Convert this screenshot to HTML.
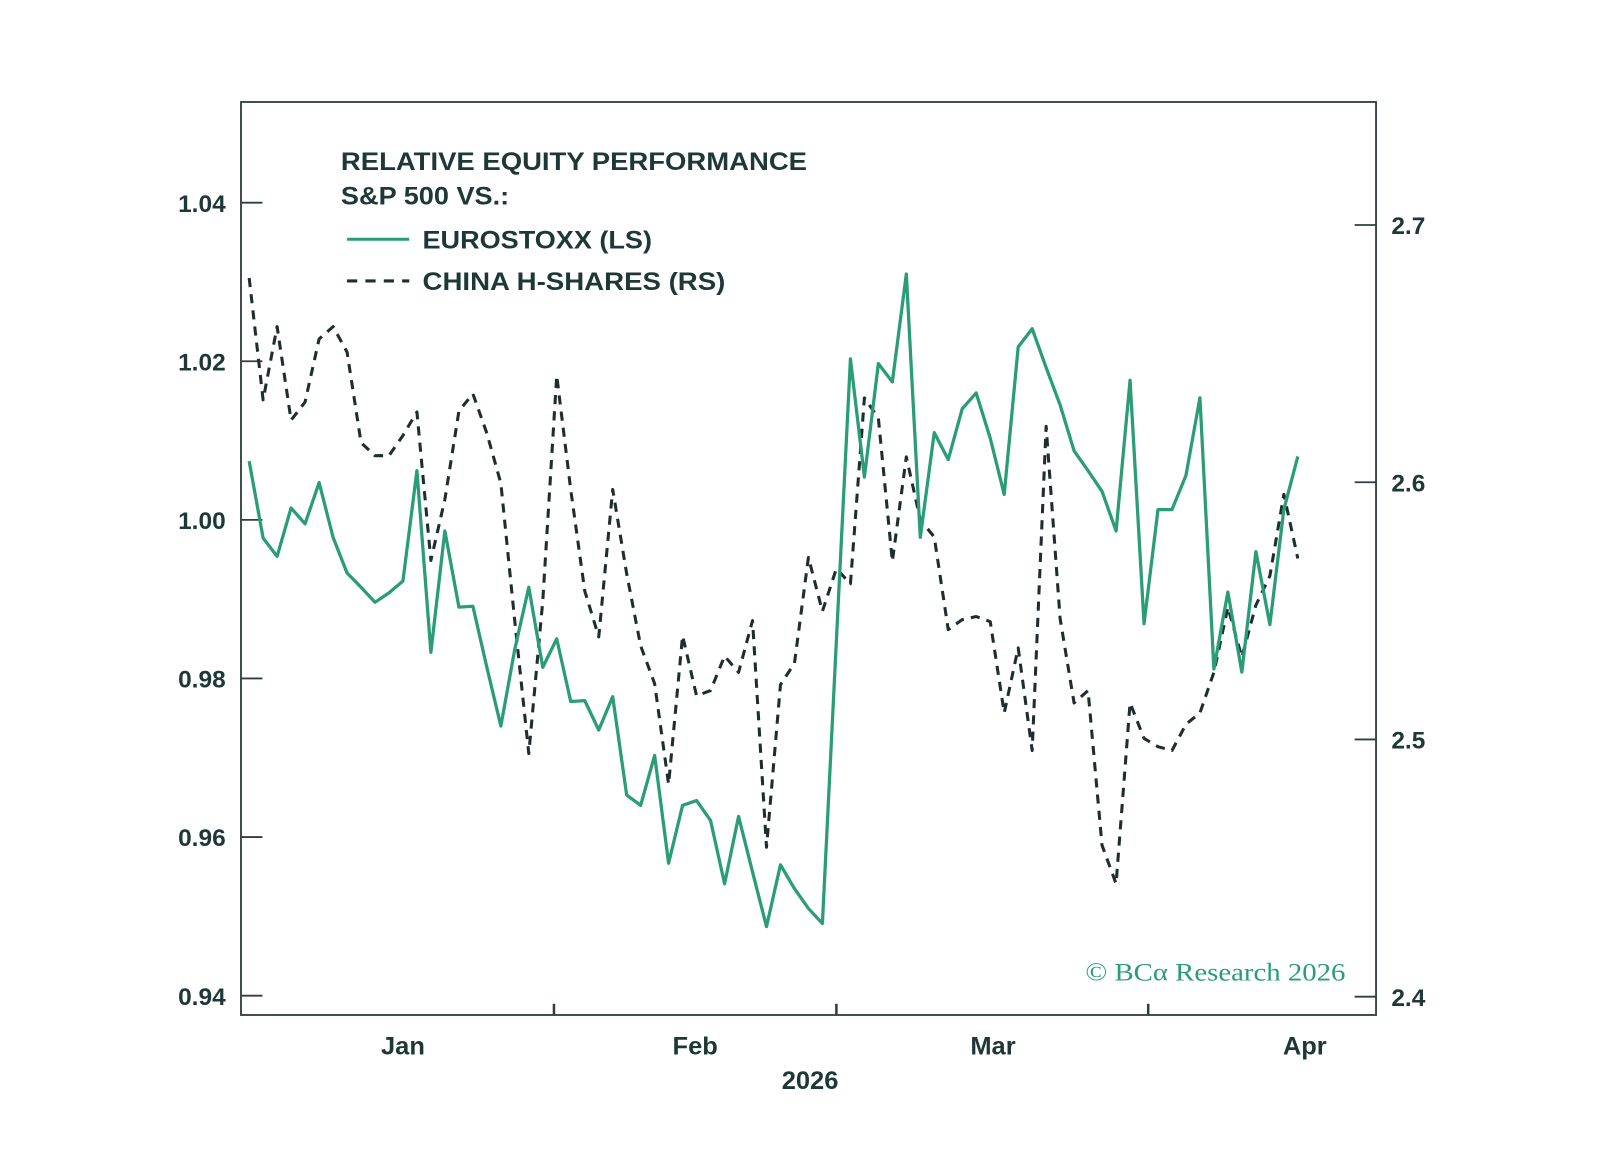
<!DOCTYPE html>
<html><head><meta charset="utf-8">
<style>
html,body{margin:0;padding:0;background:#fff;}
svg text{font-family:"Liberation Sans",sans-serif;}
</style></head>
<body>
<svg id="chart" width="1598" height="1144" viewBox="0 0 1598 1144" xmlns="http://www.w3.org/2000/svg">
<g transform="translate(241,102) scale(1.0198,1.0167) translate(-237,-99)">
<rect x="237" y="99" width="1113" height="898" fill="none" stroke="#2f3f3f" stroke-width="1.8"/>
<g id="axes"></g>
<g id="series"></g>
<g>
<text x="335" y="166" font-size="25" font-weight="bold" fill="#1e3838" textLength="457" lengthAdjust="spacingAndGlyphs">RELATIVE EQUITY PERFORMANCE</text>
<text x="335" y="200" font-size="25" font-weight="bold" fill="#1e3838" textLength="165" lengthAdjust="spacingAndGlyphs">S&amp;P 500 VS.:</text>
<line x1="341" y1="234" x2="402" y2="234" stroke="#2a9d78" stroke-width="3"/>
<text x="415" y="243" font-size="25" font-weight="bold" fill="#1e3838" textLength="225" lengthAdjust="spacingAndGlyphs">EUROSTOXX (LS)</text>
<line x1="341" y1="275" x2="402" y2="275" stroke="#1e2e2e" stroke-width="3" stroke-dasharray="10,8"/>
<text x="415" y="284" font-size="25" font-weight="bold" fill="#1e3838" textLength="297" lengthAdjust="spacingAndGlyphs">CHINA H-SHARES (RS)</text>
</g>
<text x="1065" y="963" font-size="25" fill="#2a9d78" textLength="255" lengthAdjust="spacingAndGlyphs" style="font-family:'Liberation Serif',serif">© BCα Research 2026</text>
<text x="795" y="1070" text-anchor="middle" font-size="25" font-weight="bold" fill="#1e3838">2026</text>
</g>
</svg>
<script>
const euroValues=[1.0074,0.9977,0.9954,1.0015,0.9995,1.0047,0.9978,0.9933,0.9915,0.9896,0.9908,0.9923,1.0062,0.9833,0.9986,0.9890,0.9891,0.9814,0.9740,0.9837,0.9915,0.9814,0.9850,0.9771,0.9772,0.9735,0.9777,0.9653,0.9640,0.9703,0.9567,0.9640,0.9646,0.9621,0.9541,0.9626,0.9556,0.9487,0.9565,0.9535,0.9510,0.9491,0.9847,1.0203,1.0054,1.0197,1.0174,1.0310,0.9978,1.0110,1.0076,1.0140,1.0160,1.0103,1.0032,1.0218,1.0241,1.0192,1.0145,1.0087,1.0062,1.0036,0.9986,1.0176,0.9869,1.0013,1.0013,1.0056,1.0154,0.9812,0.9909,0.9808,0.9960,0.9868,1.0013,1.0080];
const chinaValues=[2.6794,2.6320,2.6605,2.6241,2.6312,2.6557,2.6605,2.6506,2.6154,2.6103,2.6103,2.6182,2.6273,2.5696,2.5933,2.6277,2.6344,2.6190,2.5996,2.5458,2.4945,2.5538,2.6415,2.5972,2.5577,2.5399,2.5972,2.5644,2.5364,2.5217,2.4826,2.5403,2.5170,2.5190,2.5324,2.5261,2.5462,2.4581,2.5213,2.5296,2.5708,2.5498,2.5664,2.5605,2.6328,2.6249,2.5692,2.6099,2.5854,2.5787,2.5427,2.5466,2.5478,2.5458,2.5103,2.5356,2.4957,2.6217,2.5470,2.5142,2.5190,2.4589,2.4439,2.5142,2.5004,2.4972,2.4957,2.5059,2.5103,2.5261,2.5514,2.5320,2.5522,2.5636,2.5953,2.5704];
const leftTicks=[0.94,0.96,0.98,1.00,1.02,1.04];
const leftTickLabels=["0.94","0.96","0.98","1.00","1.02","1.04"];
const rightTicks=[2.4,2.5,2.6,2.7];
const rightTickLabels=["2.4","2.5","2.6","2.7"];
const monthTickIdx=[21.8,42.0,64.3];
const monthLabels=["Jan","Feb","Mar","Apr"];
const monthLabelIdx=[11.0,31.9,53.2,75.5];

const NS="http://www.w3.org/2000/svg";
const x=i=>245+i*(1287-245)/76;
const yL=v=>198+(1.04-v)/0.02*156;
const yR=v=>220+(2.7-v)/0.1*253;
const axes=document.getElementById('axes'), series=document.getElementById('series');
function mk(tag,attrs,parent,text){const e=document.createElementNS(NS,tag);for(const k in attrs)e.setAttribute(k,attrs[k]);if(text!==undefined)e.textContent=text;parent.appendChild(e);return e;}
const ink="#1e3838";
leftTicks.forEach((v,i)=>{
  const t=mk('line',{x1:237,x2:258,y1:yL(v),y2:yL(v),stroke:"#2f3f3f","stroke-width":1.8},axes);
  
  
  const l=mk('text',{x:222,y:yL(v)+9,"text-anchor":"end","font-size":24,"font-weight":"bold",fill:ink},axes,leftTickLabels[i]);
  
  
});
rightTicks.forEach((v,i)=>{
  const t=mk('line',{x1:1329,x2:1350,y1:yR(v),y2:yR(v),stroke:"#2f3f3f","stroke-width":1.8},axes);
  
  
  const l=mk('text',{x:1365,y:yR(v)+9,"font-size":24,"font-weight":"bold",fill:ink},axes,rightTickLabels[i]);
  
  
});
monthTickIdx.forEach(m=>{
  const t=mk('line',{x1:x(m),x2:x(m),y1:986,y2:997,stroke:"#2f3f3f","stroke-width":2.5},axes);
  
  
});
monthLabels.forEach((m,i)=>{
  const l=mk('text',{x:x(monthLabelIdx[i]),y:1036,"text-anchor":"middle","font-size":25,"font-weight":"bold",fill:ink},axes,m);
  
  
});
const dChina=chinaValues.map((v,i)=>(i?'L':'M')+x(i).toFixed(1)+','+yR(v).toFixed(1)).join('');
const pc=mk('path',{d:dChina,fill:"none",stroke:"#1e2e2e","stroke-width":3,"stroke-dasharray":"9,7","stroke-linejoin":"round"},series);


const dEuro=euroValues.map((v,i)=>(i?'L':'M')+x(i).toFixed(1)+','+yL(v).toFixed(1)).join('');
const pe=mk('path',{d:dEuro,fill:"none",stroke:"#2a9d78","stroke-width":3.2,"stroke-linejoin":"round"},series);


</script>
</body></html>
